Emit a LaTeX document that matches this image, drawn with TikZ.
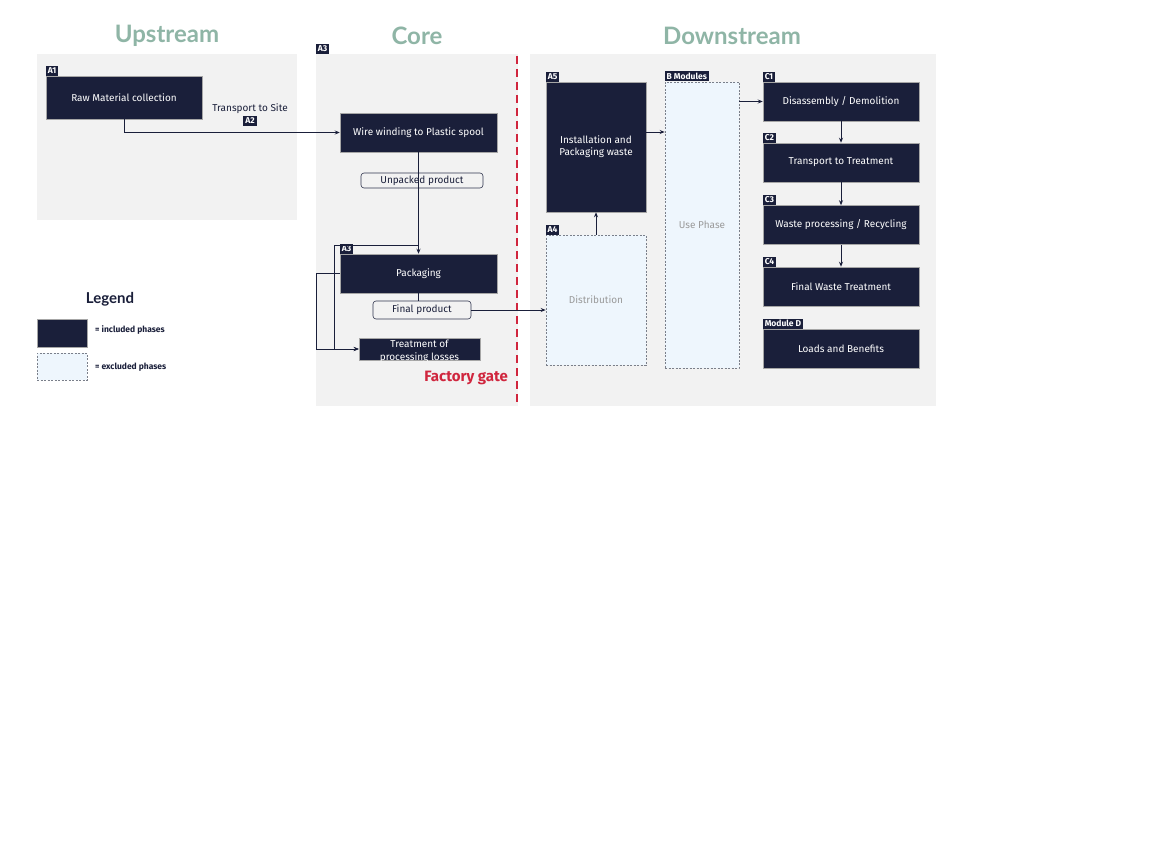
\documentclass[tikz,border=0pt]{standalone}
\usepackage{fontspec}
\setmainfont{Fira Sans}
\newfontfamily\titlefont{Lato}
\usetikzlibrary{arrows.meta}
\definecolor{navy}{HTML}{1A1F3A}
\definecolor{panelgray}{HTML}{F2F2F2}
\definecolor{titlegreen}{HTML}{8FB5A6}
\definecolor{gatered}{HTML}{D0263E}
\definecolor{exfill}{HTML}{EEF6FD}
\definecolor{exdraw}{HTML}{7A7F8A}
\definecolor{extext}{HTML}{9A9A9A}
\tikzset{
  panel/.style={fill=panelgray, draw=none, inner sep=0pt},
  incbox/.style={fill=navy, draw=gray!70, line width=0.5pt, text=white, font=\fontsize{10}{12}\selectfont, align=center, inner sep=0pt},
  exbox/.style={fill=exfill, draw=exdraw, dash pattern=on 2pt off 1.5pt, line width=0.6pt, text=extext, font=\fontsize{10}{12}\selectfont, align=center, inner sep=0pt},
  tag/.style={fill=navy, text=white, font=\fontsize{8.5}{9}\bfseries\selectfont, inner xsep=1.8pt, inner ysep=0.5pt, anchor=south west, minimum height=10pt},
  flowlabel/.style={fill=panelgray, draw=navy!90, line width=0.6pt, rounded corners=3pt, font=\fontsize{10}{12}\selectfont, text=navy, inner sep=0pt},
  conn/.style={draw=navy, line width=0.9pt},
  arr/.style={conn, -{Stealth[length=5pt,width=4pt]}},
  title/.style={font=\titlefont\fontsize{24}{28}\bfseries\selectfont, text=titlegreen},
  gate/.style={draw=gatered, line width=2pt, dash pattern=on 8pt off 5pt},
  legtext/.style={font=\fontsize{8.5}{10}\bfseries\selectfont, text=navy, anchor=west, inner sep=0pt},
}
\begin{document}
\begin{tikzpicture}[x=1pt,y=-1pt]
\useasboundingbox[fill=white] (0,0) rectangle (1152,864);
% panels
\node[panel, minimum width=260pt, minimum height=166pt] (up) at (167,137) {};
\node[panel, minimum width=202pt, minimum height=352pt] (core) at (417,230) {};
\node[panel, minimum width=406pt, minimum height=352pt] (down) at (733,230) {};
\node[tag] (coretag) at (core.north west) {A3};
% titles
\node[title] (tup) at (167,36) {Upstream};
\node[title] (tcore) at (417,36) {Core};
\node[title] (tdown) at (732,36) {Downstream};
% factory gate
\coordinate (gtop) at (517,56);
\coordinate (gbot) at (517,406);
\draw[gate] (gtop) -- (gbot);
\node[font=\fontsize{15}{18}\bfseries\selectfont, text=gatered, anchor=east, inner sep=0pt] (gatelbl) at (508,378) {Factory gate};
% upstream
\node[incbox, minimum width=156pt, minimum height=43pt] (a1) at (124,97.5) {Raw Material collection};
\node[tag] (a1t) at (a1.north west) {A1};
\node[font=\fontsize{10}{12}\selectfont, text=navy] (tr) at (250,108.5) {Transport to Site};
\node[tag, anchor=center] (a2t) at (250,121) {A2};
% core
\node[incbox, minimum width=157pt, minimum height=39pt] (ww) at (418.5,132.5) {Wire winding to Plastic spool};
\node[flowlabel, minimum width=122pt, minimum height=15pt] (unp) at (422,180.5) {Unpacked product};
\node[incbox, minimum width=157pt, minimum height=39pt] (pack) at (418.5,273.5) {Packaging};
\node[tag] (packt) at (pack.north west) {A3};
\node[flowlabel, minimum width=98pt, minimum height=18pt] (fin) at (422,310) {Final product};
\node[incbox, minimum width=121pt, minimum height=22pt] (treat) at (419.5,349) {};
\begin{scope}
\clip (treat.north west) rectangle (treat.south east);
\node[text=white, font=\fontsize{10}{13}\selectfont, align=center, inner sep=0pt] (treattxt) at (419.5,351) {Treatment of\\processing losses};
\end{scope}
% downstream
\node[incbox, minimum width=100pt, minimum height=130pt] (a5) at (596,147) {Installation and\\Packaging waste};
\node[tag] (a5t) at (a5.north west) {A5};
\node[exbox, minimum width=100pt, minimum height=130pt] (a4) at (596,300) {Distribution};
\node[tag] (a4t) at (a4.north west) {A4};
\node[exbox, minimum width=74pt, minimum height=286pt] (bmod) at (702,225) {Use Phase};
\node[tag] (bt) at (bmod.north west) {B Modules};
\node[incbox, minimum width=156pt, minimum height=39pt] (c1) at (841,101.5) {Disassembly / Demolition};
\node[tag] (c1t) at (c1.north west) {C1};
\node[incbox, minimum width=156pt, minimum height=39pt] (c2) at (841,162.5) {Transport to Treatment};
\node[tag] (c2t) at (c2.north west) {C2};
\node[incbox, minimum width=156pt, minimum height=39pt] (c3) at (841,225) {Waste processing / Recycling};
\node[tag] (c3t) at (c3.north west) {C3};
\node[incbox, minimum width=156pt, minimum height=39pt] (c4) at (841,286.5) {Final Waste Treatment};
\node[tag] (c4t) at (c4.north west) {C4};
\node[incbox, minimum width=156pt, minimum height=39pt] (md) at (841,348.5) {Loads and Benefits};
\node[tag] (mdt) at (md.north west) {Module D};
% legend
\node[title, font=\titlefont\fontsize{15}{18}\bfseries\selectfont, text=navy] (leg) at (110,299) {Legend};
\node[incbox, minimum width=50pt, minimum height=28pt] (legin) at (62,333) {};
\node[exbox, minimum width=50pt, minimum height=27pt] (legex) at (62,366.5) {};
\node[legtext] (legint) at (95,330) {= included phases};
\node[legtext] (legext) at (95,367) {= excluded phases};
% connectors
\draw[arr] (a1.south) |- (ww.west);
\draw[arr] (ww.south) -- (pack.north);
\coordinate (br) at (418.5,245);
\coordinate (brl) at (334,245);
\draw[arr] (br) -- (brl) |- (treat.west);
\coordinate (pkl) at (316,273.5);
\draw[arr] (pack.west) -- (pkl) |- (treat.west);
\draw[conn] (pack.south) -- (pack.south |- fin.north);
\draw[arr] (fin.east) -- (fin.east -| a4.west);
\draw[arr] (a4.north) -- (a5.south);
\draw[arr] ([yshift=15pt]a5.east) -- ([yshift=15pt]a5.east -| bmod.west);
\draw[arr] (bmod.east |- c1.west) -- (c1.west);
\draw[arr] (c1.south) -- (c2.north);
\draw[arr] (c2.south) -- (c3.north);
\draw[arr] (c3.south) -- (c4.north);
\end{tikzpicture}
\end{document}
